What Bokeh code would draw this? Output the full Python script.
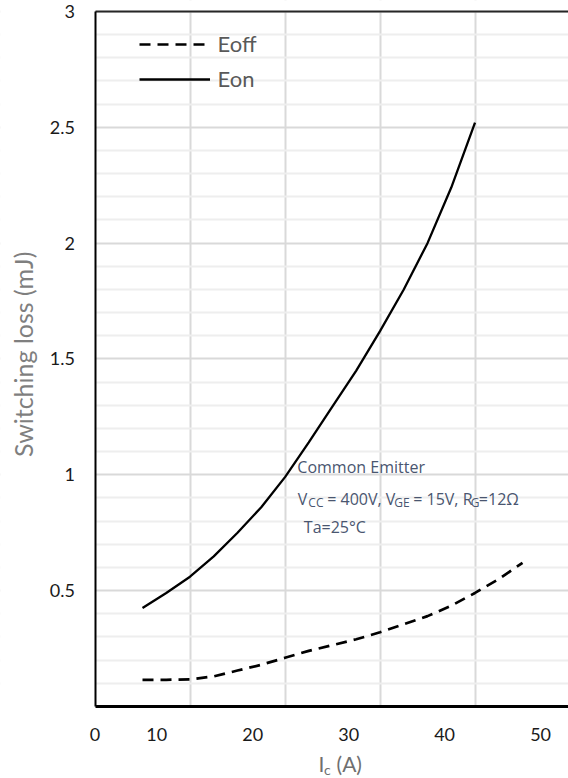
import math
from bokeh.plotting import figure
from bokeh.models import (Range1d, FixedTicker, LinearAxis, Legend, LegendItem,
                          Label, NumeralTickFormatter, BoxAnnotation)
from bokeh.embed import file_html
from bokeh.resources import INLINE

# ---- data ----
ic_on = [5, 7.5, 10, 12.5, 15, 17.5, 20, 22.5, 25, 27.5, 30, 32.5, 35, 37.5, 40]
eon = [0.425, 0.49, 0.56, 0.648, 0.75, 0.86, 0.99, 1.14, 1.295, 1.45, 1.62, 1.80, 2.0, 2.24, 2.52]

ic_off = [5, 7.5, 10, 12.5, 15, 17.5, 20, 22.5, 25, 27.5, 30, 32.5, 35, 37.5, 40, 42.5, 45]
eoff = [0.115, 0.115, 0.117, 0.13, 0.155, 0.18, 0.21, 0.24, 0.265, 0.29, 0.32, 0.355,
        0.39, 0.435, 0.49, 0.55, 0.62]

x_tick_pos = [0, 6.5, 16.6, 26.7, 36.8, 46.9]
x_tick_labels = ["0", "10", "20", "30", "40", "50"]
x_grid = [10, 20, 30, 40]
y_ticks = [0.5, 1, 1.5, 2, 2.5, 3]
y_minor = [round(0.1 * i, 1) for i in range(1, 30) if i % 5 != 0]

series_names = ["Eoff", "Eon"]
x_max = 49.84
y_max = 3

# the frame fills the canvas; axes are pinned at x=0, y=0 and y=3 so all
# texts (tick labels, titles) are drawn inside it
p = figure(width=568, height=778, output_backend="svg", toolbar_location=None,
           x_range=Range1d(-9.947, x_max), y_range=Range1d(-0.311, 3.0475),
           x_axis_location=None, y_axis_location=None,
           min_border_left=0, min_border_right=0, min_border_top=0,
           min_border_bottom=0)
p.outline_line_color = None
p.background_fill_color = "white"
p.border_fill_color = "white"

# grids
p.xgrid.ticker = FixedTicker(ticks=x_grid)
p.xgrid.grid_line_color = "#d9d9d9"
p.xgrid.grid_line_width = 2
p.ygrid.ticker = FixedTicker(ticks=y_ticks, minor_ticks=y_minor)
p.ygrid.grid_line_color = "#d9d9d9"
p.ygrid.grid_line_width = 2
p.ygrid.minor_grid_line_color = "#eeeeee"
p.ygrid.minor_grid_line_width = 2

# white masks so the grid stays inside the plotting area
for kw in (dict(right=0), dict(top=0), dict(bottom=y_max)):
    p.add_layout(BoxAnnotation(fill_color="white", fill_alpha=1, line_color=None,
                               level="underlay", **kw))

# y axis at x = 0
yaxis = LinearAxis(fixed_location=0, ticker=FixedTicker(ticks=y_ticks),
                   formatter=NumeralTickFormatter(format="0.[0]"), bounds=(0, y_max),
                   major_tick_line_color=None, minor_tick_line_color=None,
                   axis_line_color="black", axis_line_width=2,
                   major_label_standoff=14, major_label_text_font="Lato",
                   major_label_text_font_size="18px", major_label_text_color="#1a1a1a")
p.add_layout(yaxis, "left")

# x axis at y = 0
xaxis = LinearAxis(fixed_location=0, ticker=FixedTicker(ticks=x_tick_pos),
                   major_label_overrides={pos: lab for pos, lab in zip(x_tick_pos, x_tick_labels)},
                   bounds=(0, x_max),
                   major_tick_line_color=None, minor_tick_line_color=None,
                   axis_line_color="black", axis_line_width=3,
                   major_label_standoff=16, major_label_text_font="Lato",
                   major_label_text_font_size="18px", major_label_text_color="#1a1a1a")
p.add_layout(xaxis, "below")

# top border at y = 3
top = LinearAxis(fixed_location=y_max, ticker=FixedTicker(ticks=[]), bounds=(0, x_max),
                 major_tick_line_color=None, minor_tick_line_color=None,
                 axis_line_color="#262626", axis_line_width=2)
p.add_layout(top, "above")

# curves
r_off = p.line(ic_off, eoff, line_color="black", line_width=2.7, line_dash="11 7")
r_on = p.line(ic_on, eon, line_color="black", line_width=2.3)

legend = Legend(items=[LegendItem(label=series_names[0], renderers=[r_off]),
                       LegendItem(label=series_names[1], renderers=[r_on])],
                location=(138.5, 686), glyph_width=71, glyph_height=20,
                label_height=20, label_standoff=8, spacing=8, padding=0, margin=0,
                label_text_font="Lato", label_text_font_size="22px",
                label_text_color="#595959", background_fill_alpha=0,
                border_line_color=None)
p.add_layout(legend)

# y axis title
p.add_layout(Label(x=-7.6, y=1.52, angle=math.pi / 2, text="Switching loss (mJ)",
                   text_font="Lato", text_font_size="25px", text_color="#7f7f7f",
                   text_align="center", text_baseline="middle"))

# annotation text
ann_color = "#4a5670"
ann_font = "Open Sans"
ax0 = 21.35


def lab(text, x, y, xo, size):
    p.add_layout(Label(x=x, y=y, x_offset=xo, text=text, text_font=ann_font,
                       text_font_size=size, text_color=ann_color,
                       text_baseline="alphabetic", text_align="left"))


lab("Common Emitter", ax0, 1.035, -0.5, "16px")
y2, y2s = 0.896, 0.880
lab("V", ax0, y2, 0, "16px")
lab("CC", ax0, y2s, 10.5, "12px")
lab("= 400V, V", ax0, y2, 29.4, "16px")
lab("GE", ax0, y2s, 96.5, "12px")
lab("= 15V, R", ax0, y2, 115.4, "16px")
lab("G", ax0, y2s, 173, "12px")
lab("=12Ω", ax0, y2, 181, "16px")
lab("Ta=25°C", ax0, 0.775, 6, "16px")

# x axis title with subscript
xl_color = "#6f6f6f"
xt0 = 23.53
p.add_layout(Label(x=xt0, y=-0.247, text="I", text_font="Lato", text_font_size="21px",
                   text_color=xl_color, text_baseline="alphabetic"))
p.add_layout(Label(x=xt0, y=-0.271, x_offset=5.5, text="c", text_font="Lato",
                   text_font_size="14px", text_color=xl_color, text_baseline="alphabetic"))
p.add_layout(Label(x=xt0, y=-0.247, x_offset=18, text="(A)", text_font="Lato",
                   text_font_size="21px", text_color=xl_color, text_baseline="alphabetic"))

open("out.html", "w").write(file_html(p, INLINE))
